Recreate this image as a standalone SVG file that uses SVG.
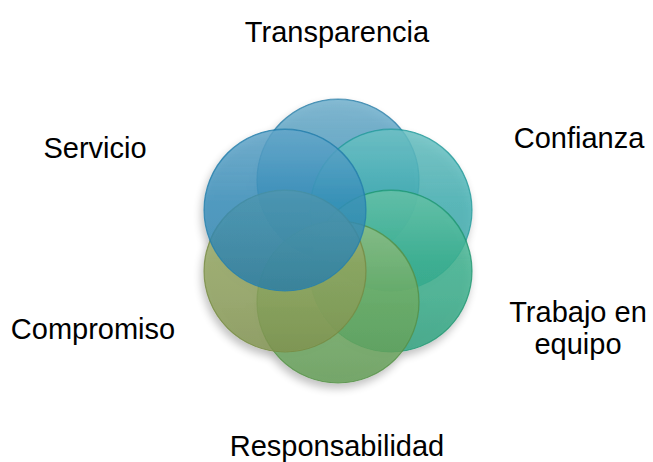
<svg xmlns="http://www.w3.org/2000/svg" width="653" height="462" viewBox="0 0 653 462">
<style>
.lbl{font-family:"Liberation Sans",Arial,sans-serif;font-size:29px;fill:#000;text-anchor:middle}
.c{fill-opacity:0.8;stroke-width:1.2;stroke-opacity:0.8}
</style>
<defs>
<filter id="sh" x="-20%" y="-20%" width="140%" height="140%">
<feGaussianBlur in="SourceAlpha" stdDeviation="4"/>
<feOffset dx="-2" dy="5" result="b"/>
<feComponentTransfer><feFuncA type="linear" slope="0.3"/></feComponentTransfer>
<feMerge><feMergeNode/><feMergeNode in="SourceGraphic"/></feMerge>
</filter>
<linearGradient id="hl" x1="0" y1="0" x2="0" y2="1">
<stop offset="0" stop-color="#fff" stop-opacity="0.22"/>
<stop offset="0.45" stop-color="#fff" stop-opacity="0.04"/>
<stop offset="1" stop-color="#000" stop-opacity="0.06"/>
</linearGradient>
</defs>
<rect width="653" height="462" fill="#fff"/>
<g filter="url(#sh)">
<g id="n-transparencia"><circle class="c" cx="338" cy="180" r="81" fill="#3f93ba" stroke="#2f7fa8"/><circle cx="338" cy="180" r="80" fill="url(#hl)"/></g>
<g id="n-confianza"><circle class="c" cx="391" cy="210" r="81" fill="#36aaad" stroke="#259a9a"/><circle cx="391" cy="210" r="80" fill="url(#hl)"/></g>
<g id="n-trabajo"><circle class="c" cx="391" cy="271" r="81" fill="#2fab86" stroke="#229570"/><circle cx="391" cy="271" r="80" fill="url(#hl)"/></g>
<g id="n-responsabilidad"><circle class="c" cx="338" cy="302" r="81" fill="#68a65a" stroke="#558f47"/><circle cx="338" cy="302" r="80" fill="url(#hl)"/></g>
<g id="n-compromiso"><circle class="c" cx="285" cy="271" r="81" fill="#8a9d55" stroke="#768944"/><circle cx="285" cy="271" r="80" fill="url(#hl)"/></g>
<g id="n-servicio"><circle class="c" cx="285" cy="210" r="81" fill="#2a86b5" stroke="#257eaa"/><circle cx="285" cy="210" r="80" fill="url(#hl)"/></g>
</g>
<g id="connectors"></g>
<g id="labels">
<text class="lbl" x="337" y="42">Transparencia</text>
<text class="lbl" x="579" y="148">Confianza</text>
<text class="lbl" x="578" y="322">Trabajo en</text>
<text class="lbl" x="578" y="354">equipo</text>
<text class="lbl" x="337" y="456">Responsabilidad</text>
<text class="lbl" x="93" y="339">Compromiso</text>
<text class="lbl" x="95" y="158">Servicio</text>
</g>
</svg>
